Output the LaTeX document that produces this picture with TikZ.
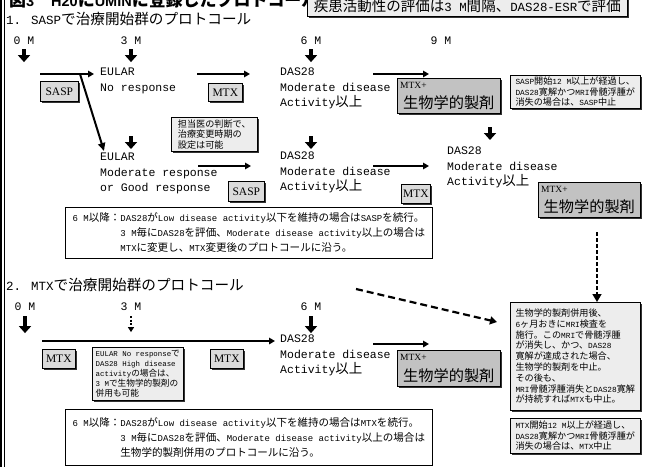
\documentclass[tikz,border=0pt]{standalone}
\usepackage{fontspec}
\setmainfont{Liberation Mono}
\newfontfamily\jp[Scale=1.17]{Noto Sans CJK JP}
\newfontfamily\lsans{Liberation Sans}
\newfontfamily\lserif{Liberation Serif}
\usetikzlibrary{arrows.meta,shadows}
\XeTeXinterchartokenstate=1
\newXeTeXintercharclass\cjkcls
\newcount\cjkc
\def\setcjkrange#1#2{\cjkc=#1\relax\loop\XeTeXcharclass\cjkc=\cjkcls\relax\advance\cjkc by 1\relax\ifnum\cjkc<#2\relax\repeat}
\setcjkrange{"3000}{"3100}
\setcjkrange{"4E00}{"A000}
\setcjkrange{"FF00}{"FFF0}
\def\curjp{\jp}
\def\curlat{\rmfamily}
\XeTeXinterchartoks 0 \cjkcls = {\curjp}
\XeTeXinterchartoks 4095 \cjkcls = {\curjp}
\XeTeXinterchartoks \cjkcls 0 = {\curlat}
\XeTeXinterchartoks \cjkcls 4095 = {\curlat}
\tikzset{
  lbl/.style={font=\fontsize{11.5}{14}\selectfont, inner sep=0pt},
  blk/.style={font=\fontsize{11.5}{15.5}\selectfont, align=left, anchor=north west, inner sep=0pt},
  shad/.style={drop shadow={shadow xshift=1.2pt, shadow yshift=-1.2pt, fill=black, opacity=0.8}},
  sbox/.style={draw, line width=0.6pt, fill=gray!28, shad, font=\lserif\fontsize{11.5}{12}\selectfont, inner sep=0pt, anchor=north west},
  nbox/.style={draw, line width=0.6pt, fill=gray!14, shad, inner sep=0pt, anchor=north west, align=left},
  dbox/.style={draw, line width=0.6pt, fill=gray!48, shad, inner sep=0pt, anchor=north west},
  wbox/.style={draw, line width=0.7pt, fill=white, inner sep=0pt, anchor=north west, align=left},
  harrow/.style={line width=1.7pt, -{Triangle[length=6pt,width=6.5pt]}},
  dnarrow/.style={line width=4pt, -{Triangle[length=7pt,width=12pt]}},
  diagarrow/.style={line width=2pt, -{Triangle[length=8pt,width=7pt]}},
  dasharrow/.style={line width=2.2pt, dash pattern=on 7pt off 4pt, -{Triangle[length=7pt,width=8pt]}},
  vdash/.style={line width=1.6pt, dash pattern=on 4pt off 2pt, -{Triangle[length=8pt,width=9pt]}},
  smalldash/.style={line width=1.6pt, dash pattern=on 2pt off 1.5pt, -{Triangle[length=5pt,width=6pt]}},
}
\begin{document}
\begin{tikzpicture}[x=1pt,y=-1pt]
\useasboundingbox (0,0) rectangle (648,466);
\clip (0,0) rectangle (648,466);
% left border
\draw[line width=2pt] (1.2,-2) -- (1.2,468);
\draw[line width=0.8pt] (4.6,-2) -- (4.6,468);
% title (clipped at the top, partly hidden by the box)
\node[anchor=base west, inner sep=0pt, font=\fontsize{14.5}{16}\selectfont] (title) at (9,6)
  {\def\curjp{\jp\bfseries}\def\curlat{\lsans\bfseries}\lsans\bfseries 図3　H20にUMINに登録したプロトコール};
\node[nbox, minimum width=320, minimum height=20, font=\fontsize{12.4}{12}\selectfont] (eval) at (307,-4)
  {疾患活動性の評価は3 M間隔、DAS28-ESRで評価};
% ---------- section 1
\node[anchor=base west, inner sep=0pt, font=\fontsize{12.5}{14}\selectfont] (h1) at (6,24) {1. SASPで治療開始群のプロトコール};
\node[lbl] (t10) at (24,41) {0 M};
\node[lbl] (t13) at (131,41) {3 M};
\node[lbl] (t16) at (311,41) {6 M};
\node[lbl] (t19) at (441,41) {9 M};
\draw[dnarrow] ([yshift=-4pt]t10.south) -- ([yshift=-17pt]t10.south);
\draw[dnarrow] ([yshift=-4pt]t13.south) -- ([yshift=-17pt]t13.south);
\draw[dnarrow] ([yshift=-4pt]t16.south) -- ([yshift=-17pt]t16.south);
% row 1
\node[blk] (eul1) at (100,68) {EULAR\\No response};
\coordinate (r1a) at (40,74);
\draw[harrow] (r1a) -- ([xshift=-6pt]r1a -| eul1.west);
\node[sbox, minimum width=38, minimum height=20] (sasp1) at (40,81) {SASP};
\coordinate (dg1) at (80,74);
\coordinate (dg2) at (104,151);
\draw[diagarrow] (dg1) -- (dg2);
\node[sbox, minimum width=34, minimum height=18] (mtx1) at (208,83) {MTX};
\node[blk] (das1) at (280,68) {DAS28\\Moderate disease\\Activity以上};
\coordinate (r1c) at (197,74);
\draw[harrow] (r1c) -- ([xshift=-30pt]r1c -| das1.west);
\coordinate (r1d) at (373,74);
\coordinate (r1e) at (429,74);
\draw[harrow] (r1d) -- (r1e);
\node[dbox, minimum width=103, minimum height=35] (bio1) at (397,78) {};
\node[anchor=north west, inner sep=0pt, font=\lserif\fontsize{9.5}{10}\selectfont] (bio1a) at ([shift={(3pt,-4pt)}]bio1.north west) {MTX+};
\node[inner sep=0pt, font=\fontsize{13}{13}\selectfont] (bio1b) at ([yshift=-7pt]bio1.center) {生物学的製剤};
\node[nbox, minimum width=130, minimum height=33, font=\fontsize{7.8}{10.5}\selectfont] (n1) at (510,75)
  {SASP開始12 M以上が経過し、\\DAS28寛解かつMRI骨髄浮腫が\\消失の場合は、SASP中止};
\node[nbox, minimum width=86, minimum height=34, font=\fontsize{7.8}{10.5}\selectfont] (doc) at (171,117)
  {担当医の判断で、\\治療変更時期の\\設定は可能};
% row 2
\coordinate (v3a) at (131,136); \coordinate (v3b) at (131,149);
\draw[dnarrow] (v3a) -- (v3b);
\coordinate (v6a) at (311,136); \coordinate (v6b) at (311,149);
\draw[dnarrow] (v6a) -- (v6b);
\coordinate (v9a) at (490,127); \coordinate (v9b) at (490,140);
\draw[dnarrow] (v9a) -- (v9b);
\node[blk] (eul2) at (100,153) {EULAR\\Moderate response\\or Good response};
\coordinate (r2a) at (198,166);
\coordinate (r2b) at (251,166);
\draw[harrow] (r2a) -- (r2b);
\node[sbox, minimum width=36, minimum height=20] (sasp2) at (228,181) {SASP};
\node[blk] (das2) at (280,152) {DAS28\\Moderate disease\\Activity以上};
\coordinate (r2c) at (373,166);
\coordinate (r2d) at (429,166);
\draw[harrow] (r2c) -- (r2d);
\node[sbox, minimum width=29, minimum height=19] (mtx2) at (401,184) {MTX};
\node[blk] (das3) at (447,147) {DAS28\\Moderate disease\\Activity以上};
\node[dbox, minimum width=102, minimum height=35] (bio2) at (538,182) {};
\node[anchor=north west, inner sep=0pt, font=\lserif\fontsize{9.5}{10}\selectfont] (bio2a) at ([shift={(3pt,-4pt)}]bio2.north west) {MTX+};
\node[inner sep=0pt, font=\fontsize{13}{13}\selectfont] (bio2b) at ([yshift=-7pt]bio2.center) {生物学的製剤};
\node[wbox, minimum width=367, minimum height=51, font=\fontsize{9}{15}\selectfont] (m6a) at (65,207)
  {6 M以降：DAS28がLow disease activity以下を維持の場合はSASPを続行。\\
   \phantom{6 M以降：}3 M毎にDAS28を評価、Moderate disease activity以上の場合は\\
   \phantom{6 M以降：}MTXに変更し、MTX変更後のプロトコールに沿う。};
% ---------- section 2
\node[anchor=base west, inner sep=0pt, font=\fontsize{12.5}{14}\selectfont] (h2) at (6,290) {2. MTXで治療開始群のプロトコール};
\node[lbl] (t20) at (25,307) {0 M};
\node[lbl] (t23) at (131,307) {3 M};
\node[lbl] (t26) at (311,307) {6 M};
\draw[dnarrow] ([yshift=-5pt]t20.south) -- ([yshift=-22pt]t20.south);
\draw[smalldash] ([yshift=-5pt]t23.south) -- ([yshift=-21pt]t23.south);
\draw[dnarrow] ([yshift=-5pt]t26.south) -- ([yshift=-22pt]t26.south);
\node[blk] (das4) at (280,335) {DAS28\\Moderate disease\\Activity以上};
\coordinate (r3a) at (42,341);
\draw[harrow] (r3a) -- ([xshift=-5pt]r3a -| das4.west);
\node[sbox, minimum width=33, minimum height=19] (mtx3) at (42,349) {MTX};
\node[nbox, minimum width=91, minimum height=53, font=\fontsize{7.4}{10.2}\selectfont] (eulnote) at (92,347)
  {EULAR No responseで\\DAS28 High disease\\activityの場合は、\\3 Mで生物学的製剤の\\併用も可能};
\node[sbox, minimum width=33, minimum height=19] (mtx4) at (210,349) {MTX};
\coordinate (r3c) at (373,344);
\coordinate (r3d) at (429,344);
\draw[harrow] (r3c) -- (r3d);
\node[dbox, minimum width=103, minimum height=36] (bio3) at (397,350) {};
\node[anchor=north west, inner sep=0pt, font=\lserif\fontsize{9.5}{10}\selectfont] (bio3a) at ([shift={(3pt,-4pt)}]bio3.north west) {MTX+};
\node[inner sep=0pt, font=\fontsize{13}{13}\selectfont] (bio3b) at ([yshift=-7pt]bio3.center) {生物学的製剤};
\node[nbox, minimum width=130, minimum height=108, font=\fontsize{7.8}{10.8}\selectfont] (bignote) at (510,302)
  {生物学的製剤併用後、\\6ヶ月おきにMRI検査を\\施行。このMRIで骨髄浮腫\\が消失し、かつ、DAS28\\寛解が達成された場合、\\生物学的製剤を中止。\\その後も、\\MRI骨髄浮腫消失とDAS28寛解\\が持続すればMTXも中止。};
\coordinate (dd1) at (356,289);
\draw[dasharrow] (dd1) -- ([xshift=-13pt]bignote.west |- 0,322);
\coordinate (vd1) at (597,232);
\draw[vdash] (vd1) -- (vd1 |- bignote.north);
\node[wbox, minimum width=367, minimum height=56, font=\fontsize{9}{15}\selectfont] (m6b) at (65,409)
  {6 M以降：DAS28がLow disease activity以下を維持の場合はMTXを続行。\\
   \phantom{6 M以降：}3 M毎にDAS28を評価、Moderate disease activity以上の場合は\\
   \phantom{6 M以降：}生物学的製剤併用のプロトコールに沿う。};
\node[nbox, minimum width=130, minimum height=35, font=\fontsize{7.8}{10.5}\selectfont] (n2) at (510,418)
  {MTX開始12 M以上が経過し、\\DAS28寛解かつMRI骨髄浮腫が\\消失の場合は、MTX中止};
\end{tikzpicture}
\end{document}
